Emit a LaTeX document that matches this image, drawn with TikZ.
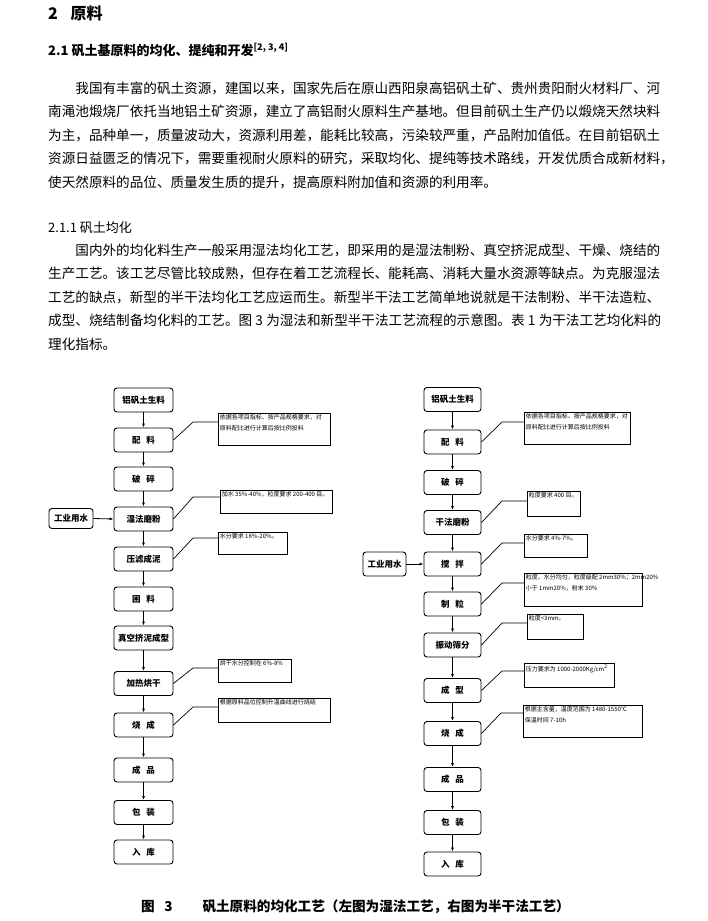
\documentclass[tikz,border=0pt]{standalone}
\usepackage{fontspec}
\setmainfont{Noto Sans CJK SC}
\usetikzlibrary{arrows.meta,positioning,calc}

\XeTeXlinebreaklocale "zh"
\XeTeXlinebreakskip=0pt plus 2pt

\newcommand{\bodyline}[1]{\hbox to 613pt{#1}}
\newcommand{\notetext}[3]{\parbox[c][#2][t]{#1}{\raggedright #3}}
\newcommand{\gap}{\hspace{0.7em}}

\begin{document}
\begin{tikzpicture}[
    x=1pt, y=-1pt,
    bodytext/.style={anchor=west, inner sep=0pt, font=\fontsize{13.6}{14}\selectfont},
    procbox/.style={draw=black, rounded corners=3pt, line width=0.9pt, minimum width=59pt, minimum height=24pt, inner sep=1pt, font=\fontsize{8.5}{9}\selectfont\bfseries},
    notebox/.style={draw=black, line width=0.7pt, anchor=north west, inner sep=1.5pt, font=\fontsize{6}{10.5}\selectfont},
    flow/.style={-{Latex[length=4pt,width=3pt]}, line width=0.8pt},
    lead/.style={line width=0.7pt}
]
\useasboundingbox (0,0) rectangle (707,921);

% Headings and text
\node[bodytext, font=\fontsize{16}{16}\selectfont\bfseries] (sec) at (48,13) {2\hspace{0.8em}原料};
\node[bodytext, font=\fontsize{13}{14}\selectfont\bfseries] (subsec) at (48,50) {2.1 矾土基原料的均化、提纯和开发\textsuperscript{[2, 3, 4]}};
\node[bodytext] (pa1) at (48,88) {\bodyline{\hspace*{2em}我国有丰富的矾土资源，建国以来，国家先后在原山西阳泉高铝矾土矿、贵州贵阳耐火材料厂、河}};
\node[bodytext] (pa2) at (48,111.5) {\bodyline{南渑池煅烧厂依托当地铝土矿资源，建立了高铝耐火原料生产基地。但目前矾土生产仍以煅烧天然块料}};
\node[bodytext] (pa3) at (48,135) {\bodyline{为主，品种单一，质量波动大，资源利用差，能耗比较高，污染较严重，产品附加值低。在目前铝矾土}};
\node[bodytext] (pa4) at (48,158.5) {\bodyline{资源日益匮乏的情况下，需要重视耐火原料的研究，采取均化、提纯等技术路线，开发优质合成新材料，}};
\node[bodytext] (pa5) at (48,182) {使天然原料的品位、质量发生质的提升，提高原料附加值和资源的利用率。};
\node[bodytext, font=\fontsize{13}{14}\selectfont] (subsub) at (48,228) {2.1.1 矾土均化};
\node[bodytext] (pb1) at (48,250) {\bodyline{\hspace*{2em}国内外的均化料生产一般采用湿法均化工艺，即采用的是湿法制粉、真空挤泥成型、干燥、烧结的}};
\node[bodytext] (pb2) at (48,273.5) {\bodyline{生产工艺。该工艺尽管比较成熟，但存在着工艺流程长、能耗高、消耗大量水资源等缺点。为克服湿法}};
\node[bodytext] (pb3) at (48,297) {\bodyline{工艺的缺点，新型的半干法均化工艺应运而生。新型半干法工艺简单地说就是干法制粉、半干法造粒、}};
\node[bodytext] (pb4) at (48,320.5) {\bodyline{成型、烧结制备均化料的工艺。图 3 为湿法和新型半干法工艺流程的示意图。表 1 为干法工艺均化料的}};
\node[bodytext] (pb5) at (48,344) {理化指标。};

% Left chart: wet process
\node[procbox] (lraw) at (143.5,400) {铝矾土生料};
\node[procbox] (lmix) at (143.5,440) {配\gap 料};
\node[procbox] (lcrush) at (143.5,479) {破\gap 碎};
\node[procbox] (lmill) at (143.5,519) {湿法磨粉};
\node[procbox] (lpress) at (143.5,559) {压滤成泥};
\node[procbox] (lage) at (143.5,599) {困\gap 料};
\node[procbox] (lext) at (143.5,638) {真空挤泥成型};
\node[procbox] (ldry) at (143.5,683.5) {加热烘干};
\node[procbox] (lfire) at (143.5,725) {烧\gap 成};
\node[procbox] (lprod) at (143.5,770) {成\gap 品};
\node[procbox] (lpack) at (143.5,812.5) {包\gap 装};
\node[procbox] (lstore) at (143.5,852) {入\gap 库};
\node[procbox, minimum width=44pt, minimum height=20pt] (lwater) at (71,518.5) {工业用水};

\draw[flow] (lraw.south) -- (lmix.north);
\draw[flow] (lmix.south) -- (lcrush.north);
\draw[flow] (lcrush.south) -- (lmill.north);
\draw[flow] (lmill.south) -- (lpress.north);
\draw[flow] (lpress.south) -- (lage.north);
\draw[flow] (lage.south) -- (lext.north);
\draw[flow] (lext.south) -- (ldry.north);
\draw[flow] (ldry.south) -- (lfire.north);
\draw[flow] (lfire.south) -- (lprod.north);
\draw[flow] (lprod.south) -- (lpack.north);
\draw[flow] (lpack.south) -- (lstore.north);
\draw[flow] (lwater.east) -- (lmill.west);

% Left notes
\node[notebox] (ln1) at (218,413) {\notetext{109pt}{29pt}{\mbox{依据各项目指标、按产品规格要求，对}\\原料配比进行计算后按比例投料}};
\node[notebox] (ln2) at (220,490) {\notetext{109pt}{20pt}{\mbox{加水 35\%-40\%，粒度要求 200-400 目。}}};
\node[notebox] (ln3) at (218,532) {\notetext{66pt}{19pt}{\mbox{水分要求 18\%-20\%。}}};
\node[notebox] (ln4) at (218,659) {\notetext{70pt}{20pt}{\mbox{烘干水分控制在 6\%-8\%}}};
\node[notebox] (ln5) at (218,698) {\notetext{109pt}{21pt}{\mbox{根据原料品位控制升温曲线进行烧结}}};

\draw[lead] (lmix.east) -- ([xshift=-25pt,yshift=-9pt]ln1.north west) -- ([yshift=-9pt]ln1.north west);
\draw[lead] (lmill.east) -- ([xshift=-27pt,yshift=-7pt]ln2.north west) -- ([yshift=-7pt]ln2.north west);
\draw[lead] (lpress.east) -- ([xshift=-25pt,yshift=-6pt]ln3.north west) -- ([yshift=-6pt]ln3.north west);
\draw[lead] (ldry.east) -- ([xshift=-25pt,yshift=-9pt]ln4.north west) -- ([yshift=-9pt]ln4.north west);
\draw[lead] (lfire.east) -- ([xshift=-25pt,yshift=-9pt]ln5.north west) -- ([yshift=-9pt]ln5.north west);

% Right chart: semi-dry process
\node[procbox, minimum width=57pt] (rraw) at (452.5,399.5) {铝矾土生料};
\node[procbox, minimum width=57pt] (rmix) at (452.5,442) {配\gap 料};
\node[procbox, minimum width=57pt] (rcrush) at (452.5,482.5) {破\gap 碎};
\node[procbox, minimum width=57pt] (rmill) at (452.5,522.5) {干法磨粉};
\node[procbox, minimum width=57pt] (rstir) at (452.5,564) {搅\gap 拌};
\node[procbox, minimum width=57pt] (rgran) at (452.5,604) {制\gap 粒};
\node[procbox, minimum width=57pt] (rsieve) at (452.5,645) {振动筛分};
\node[procbox, minimum width=57pt] (rform) at (452.5,690.5) {成\gap 型};
\node[procbox, minimum width=57pt] (rfire) at (452.5,733.5) {烧\gap 成};
\node[procbox, minimum width=57pt] (rprod) at (452.5,779.5) {成\gap 品};
\node[procbox, minimum width=57pt] (rpack) at (452.5,822.5) {包\gap 装};
\node[procbox, minimum width=57pt] (rstore) at (452.5,864) {入\gap 库};
\node[procbox, minimum width=43pt] (rwater) at (384.5,564) {工业用水};

\draw[flow] (rraw.south) -- (rmix.north);
\draw[flow] (rmix.south) -- (rcrush.north);
\draw[flow] (rcrush.south) -- (rmill.north);
\draw[flow] (rmill.south) -- (rstir.north);
\draw[flow] (rstir.south) -- (rgran.north);
\draw[flow] (rgran.south) -- (rsieve.north);
\draw[flow] (rsieve.south) -- (rform.north);
\draw[flow] (rform.south) -- (rfire.north);
\draw[flow] (rfire.south) -- (rprod.north);
\draw[flow] (rprod.south) -- (rpack.north);
\draw[flow] (rpack.south) -- (rstore.north);
\draw[flow] (rwater.east) -- (rstir.west);

% Right notes
\node[notebox] (rn1) at (524,412) {\notetext{103pt}{29pt}{\mbox{依据各项目指标、按产品规格要求，对}\\原料配比进行计算后按比例投料}};
\node[notebox] (rn2) at (527,491) {\notetext{50pt}{22pt}{\mbox{粒度要求 400 目。}}};
\node[notebox] (rn3) at (524,534) {\notetext{60pt}{20pt}{\mbox{水分要求 4\%-7\%。}}};
\node[notebox] (rn4) at (524,573) {\notetext{115pt}{30pt}{\mbox{粒度、水分均匀，粒度级配 2mm30\%；2mm20\%}\\小于 1mm20\%，粉末 30\%}};
\node[notebox] (rn5) at (527,614) {\notetext{53pt}{22pt}{\mbox{粒度<3mm。}}};
\node[notebox] (rn6) at (524,663) {\notetext{87pt}{21pt}{\mbox{压力要求为 1000-2000Kg/cm\textsuperscript{2}}}};
\node[notebox] (rn7) at (523,705) {\notetext{116pt}{29pt}{\mbox{根据主含量，温度范围为 1480-1550℃}\\保温时间 7-10h}};

\draw[lead] (rmix.east) -- ([xshift=-22pt,yshift=-10pt]rn1.north west) -- ([yshift=-10pt]rn1.north west);
\draw[lead] (rmill.east) -- ([xshift=-25pt,yshift=-10pt]rn2.north west) -- ([yshift=-10pt]rn2.north west);
\draw[lead] (rstir.east) -- ([xshift=-22pt,yshift=-9pt]rn3.north west) -- ([yshift=-9pt]rn3.north west);
\draw[lead] (rgran.east) -- ([xshift=-22pt,yshift=-10pt]rn4.north west) -- ([yshift=-10pt]rn4.north west);
\draw[lead] (rsieve.east) -- ([xshift=-25pt,yshift=-9pt]rn5.north west) -- ([yshift=-9pt]rn5.north west);
\draw[lead] (rform.east) -- ([xshift=-22pt,yshift=-8pt]rn6.north west) -- ([yshift=-8pt]rn6.north west);
\draw[lead] (rfire.east) -- ([xshift=-22pt,yshift=-8pt]rn7.north west) -- ([yshift=-8pt]rn7.north west);

% Caption
\node[bodytext, font=\fontsize{13.6}{14}\selectfont\bfseries] (cap) at (141,907) {图\hspace{0.7em}3\hspace{2.2em}矾土原料的均化工艺（左图为湿法工艺，右图为半干法工艺）};

\end{tikzpicture}
\end{document}
